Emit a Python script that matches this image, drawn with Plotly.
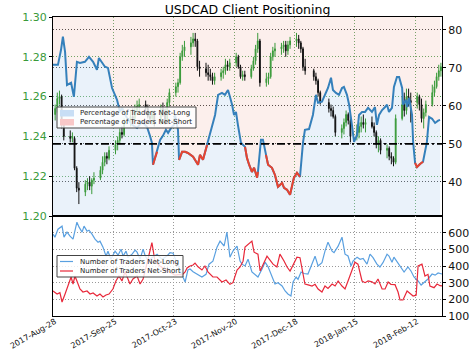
import pandas as pd
import plotly.graph_objects as go

# ---------------- data ----------------
title_text = "USDCAD Client Positioning"
base_date = pd.Timestamp("2017-08-28")
x_end = pd.Timestamp("2018-02-24 12:00")
tick_dates = pd.to_datetime(["2017-08-28", "2017-09-25", "2017-10-23", "2017-11-20",
                             "2017-12-18", "2018-01-15", "2018-02-12"])

trade_days = pd.bdate_range("2017-08-28", "2018-02-23").drop(pd.to_datetime(["2017-12-25", "2018-01-01"]))
candle_dates = trade_days + pd.Timedelta(days=1)  # bars stamped at session close

opens = [1.2510, 1.2540, 1.2590, 1.2600, 1.2460, 1.2400, 1.2390, 1.2390, 1.2240, 1.2140,
         1.2120, 1.2160, 1.2170, 1.2150, 1.2180, 1.2190, 1.2230, 1.2270, 1.2300, 1.2290,
         1.2330, 1.2360, 1.2380, 1.2420, 1.2410, 1.2470, 1.2500, 1.2490, 1.2530, 1.2550,
         1.2560, 1.2540, 1.2500, 1.2490, 1.2510, 1.2470, 1.2540, 1.2520, 1.2480, 1.2570,
         1.2620, 1.2650, 1.2670, 1.2800, 1.2830, 1.2850, 1.2870, 1.2890, 1.2880, 1.2750,
         1.2740, 1.2720, 1.2710, 1.2700, 1.2680, 1.2700, 1.2720, 1.2730, 1.2760, 1.2750,
         1.2770, 1.2800, 1.2750, 1.2700, 1.2710, 1.2700, 1.2740, 1.2780, 1.2840, 1.2880,
         1.2670, 1.2690, 1.2700, 1.2800, 1.2830, 1.2840, 1.2850, 1.2860, 1.2830, 1.2860,
         1.2880, 1.2890, 1.2870, 1.2840, 1.2750, 1.2730, 1.2700, 1.2680, 1.2620, 1.2570,
         1.2540, 1.2530, 1.2500, 1.2420, 1.2440, 1.2470, 1.2510, 1.2480, 1.2400, 1.2420,
         1.2450, 1.2470, 1.2460, 1.2470, 1.2450, 1.2420, 1.2360, 1.2380, 1.2330, 1.2340,
         1.2300, 1.2290, 1.2270, 1.2490, 1.2560, 1.2530, 1.2600, 1.2580, 1.2570, 1.2600,
         1.2560, 1.2490, 1.2520, 1.2560, 1.2620, 1.2650, 1.2700, 1.2730]
highs = [1.2560, 1.2620, 1.2630, 1.2610, 1.2480, 1.2430, 1.2420, 1.2400, 1.2250, 1.2170,
         1.2180, 1.2190, 1.2200, 1.2190, 1.2220, 1.2250, 1.2300, 1.2320, 1.2320, 1.2350,
         1.2380, 1.2400, 1.2440, 1.2450, 1.2490, 1.2530, 1.2540, 1.2560, 1.2580, 1.2590,
         1.2580, 1.2560, 1.2520, 1.2530, 1.2530, 1.2560, 1.2570, 1.2540, 1.2590, 1.2640,
         1.2670, 1.2690, 1.2820, 1.2860, 1.2880, 1.2900, 1.2920, 1.2920, 1.2890, 1.2780,
         1.2770, 1.2760, 1.2740, 1.2720, 1.2720, 1.2740, 1.2750, 1.2790, 1.2780, 1.2790,
         1.2820, 1.2810, 1.2760, 1.2730, 1.2730, 1.2760, 1.2800, 1.2860, 1.2920, 1.2890,
         1.2720, 1.2720, 1.2820, 1.2850, 1.2870, 1.2870, 1.2880, 1.2880, 1.2880, 1.2900,
         1.2920, 1.2910, 1.2880, 1.2850, 1.2790, 1.2740, 1.2720, 1.2690, 1.2630, 1.2590,
         1.2560, 1.2550, 1.2510, 1.2460, 1.2490, 1.2530, 1.2520, 1.2500, 1.2460, 1.2470,
         1.2500, 1.2510, 1.2490, 1.2500, 1.2470, 1.2430, 1.2400, 1.2390, 1.2360, 1.2350,
         1.2320, 1.2300, 1.2510, 1.2600, 1.2620, 1.2640, 1.2640, 1.2620, 1.2620, 1.2610,
         1.2590, 1.2540, 1.2580, 1.2660, 1.2680, 1.2720, 1.2760, 1.2770]
lows = [1.2480, 1.2520, 1.2560, 1.2440, 1.2380, 1.2370, 1.2370, 1.2230, 1.2120, 1.2060,
        1.2100, 1.2130, 1.2130, 1.2110, 1.2160, 1.2180, 1.2210, 1.2250, 1.2260, 1.2280,
        1.2310, 1.2330, 1.2360, 1.2390, 1.2400, 1.2450, 1.2470, 1.2480, 1.2510, 1.2520,
        1.2520, 1.2490, 1.2470, 1.2460, 1.2450, 1.2460, 1.2500, 1.2460, 1.2470, 1.2550,
        1.2600, 1.2620, 1.2660, 1.2780, 1.2800, 1.2810, 1.2850, 1.2850, 1.2730, 1.2700,
        1.2700, 1.2680, 1.2680, 1.2660, 1.2660, 1.2680, 1.2690, 1.2710, 1.2730, 1.2730,
        1.2750, 1.2740, 1.2690, 1.2680, 1.2680, 1.2690, 1.2730, 1.2760, 1.2820, 1.2650,
        1.2650, 1.2660, 1.2690, 1.2780, 1.2800, 1.2810, 1.2820, 1.2800, 1.2810, 1.2840,
        1.2850, 1.2840, 1.2820, 1.2730, 1.2710, 1.2680, 1.2660, 1.2600, 1.2560, 1.2520,
        1.2500, 1.2490, 1.2400, 1.2390, 1.2410, 1.2450, 1.2460, 1.2370, 1.2380, 1.2390,
        1.2420, 1.2440, 1.2420, 1.2440, 1.2400, 1.2340, 1.2320, 1.2310, 1.2290, 1.2280,
        1.2260, 1.2250, 1.2260, 1.2480, 1.2500, 1.2510, 1.2550, 1.2470, 1.2540, 1.2530,
        1.2470, 1.2440, 1.2500, 1.2550, 1.2600, 1.2640, 1.2680, 1.2700]
closes = [1.2540, 1.2590, 1.2600, 1.2460, 1.2400, 1.2390, 1.2400, 1.2240, 1.2140, 1.2130,
          1.2160, 1.2170, 1.2150, 1.2180, 1.2190, 1.2230, 1.2270, 1.2300, 1.2290, 1.2330,
          1.2360, 1.2380, 1.2420, 1.2410, 1.2470, 1.2500, 1.2490, 1.2530, 1.2550, 1.2560,
          1.2540, 1.2500, 1.2490, 1.2510, 1.2470, 1.2540, 1.2520, 1.2480, 1.2570, 1.2620,
          1.2650, 1.2670, 1.2800, 1.2830, 1.2850, 1.2870, 1.2890, 1.2880, 1.2750, 1.2740,
          1.2720, 1.2710, 1.2700, 1.2680, 1.2700, 1.2720, 1.2730, 1.2760, 1.2750, 1.2770,
          1.2800, 1.2750, 1.2700, 1.2710, 1.2700, 1.2740, 1.2780, 1.2840, 1.2880, 1.2670,
          1.2690, 1.2700, 1.2800, 1.2830, 1.2840, 1.2850, 1.2860, 1.2830, 1.2860, 1.2880,
          1.2890, 1.2870, 1.2840, 1.2750, 1.2730, 1.2700, 1.2680, 1.2620, 1.2570, 1.2540,
          1.2530, 1.2500, 1.2420, 1.2440, 1.2470, 1.2510, 1.2480, 1.2400, 1.2420, 1.2450,
          1.2470, 1.2460, 1.2470, 1.2450, 1.2420, 1.2360, 1.2380, 1.2330, 1.2340, 1.2300,
          1.2290, 1.2270, 1.2490, 1.2560, 1.2530, 1.2600, 1.2580, 1.2570, 1.2600, 1.2560,
          1.2490, 1.2520, 1.2560, 1.2620, 1.2650, 1.2700, 1.2730, 1.2750]

# percentage of traders net-long (days after 2017-08-28, value)
pct_days = [0, 2.3, 3.7, 4.6, 5.6, 6.5, 8.4, 9.7, 11.1, 12.5, 14.8, 16.7, 18.6, 20.4, 21.3,
            23.2, 24.1, 25.5, 27.4, 29.7, 31.1, 32.0, 32.9, 34.3, 36.7, 39.0, 41.3, 43.6,
            45.0, 45.9, 46.4, 48.3, 49.7, 51.0, 52.4, 53.4, 54.8, 56.1, 56.6, 58.0, 58.5,
            59.9, 61.3, 62.6, 65.0, 67.3, 68.2, 69.6, 71.5, 72.9, 75.2, 76.6, 78.4, 79.8,
            81.2, 82.1, 83.1, 84.0, 84.9, 85.8, 87.2, 89.1, 90.0, 91.0, 92.3, 93.3, 94.7,
            95.1, 96.5, 97.4, 98.8, 99.8, 101.6, 103.0, 104.4, 106.3, 107.2, 108.6, 110.0,
            110.9, 111.8, 113.2, 114.6, 116.0, 116.9, 118.8, 120.6, 122.0, 123.0, 124.8,
            126.2, 127.6, 129.0, 129.9, 131.3, 132.7, 134.1, 135.0, 136.4, 137.4, 138.7,
            139.7, 141.1, 142.0, 143.4, 144.8, 146.2, 148.0, 149.4, 150.3, 151.3, 152.7,
            154.1, 155.0, 155.9, 157.3, 158.2, 159.6, 160.6, 162.0, 162.4, 163.8, 164.3,
            165.2, 166.6, 167.1, 168.0, 168.9, 170.3, 171.7, 173.5, 174.5, 175.9, 177.3,
            178.7, 179.6]
pct_long = [70.8, 70.8, 74.7, 78.2, 74.2, 65.5, 66.1, 62.4, 71.6, 71.3, 71.6, 72.9, 71.6, 69.5,
            72.6, 71.0, 70.3, 70.0, 64.7, 61.6, 58.4, 59.5, 58.4, 56.8, 55.0, 54.2, 55.8, 54.5,
            52.1, 50.3, 44.5, 47.9, 51.0, 52.1, 53.7, 52.9, 54.2, 55.0, 57.6, 53.7, 45.8,
            47.9, 47.9, 47.6, 46.6, 44.5, 47.1, 45.8, 49.7, 53.2, 57.6, 62.9, 63.4, 62.9,
            64.2, 62.4, 60.3, 57.6, 58.4, 55.0, 50.3, 49.2, 46.3, 44.5, 42.6, 43.7, 41.1,
            42.6, 51.1, 51.1, 47.1, 44.5, 43.7, 41.8, 38.7, 39.7, 38.4, 37.9, 36.6, 39.2,
            41.1, 42.4, 41.3, 50.3, 53.7, 53.9, 57.6, 62.9, 60.8, 61.1, 62.9, 64.7, 67.4,
            64.2, 63.4, 62.9, 64.7, 65.0, 62.9, 60.3, 55.0, 50.5, 52.4, 57.6, 58.4, 58.4,
            59.5, 58.4, 59.7, 55.0, 57.6, 58.9, 59.7, 60.3, 58.4, 59.5, 65.0, 67.6, 67.6,
            64.7, 60.3, 61.6, 59.7, 62.1, 57.6, 50.5, 45.0, 43.9, 44.7, 45.3, 50.5, 57.1,
            56.6, 55.5, 56.1, 56.3]

# number of traders net-long
long_days = [0, 0.9, 2.3, 4.2, 5.1, 6.5, 7.9, 9.3, 11.1, 12.1, 13.5, 14.4, 15.8, 16.7, 18.1,
             19.5, 20.9, 21.8, 23.2, 24.6, 25.5, 26.9, 27.8, 28.8, 30.2, 31.6, 32.5, 33.9,
             34.8, 36.7, 38.1, 39.0, 40.4, 41.8, 42.7, 44.1, 45.9, 48.3, 50.6, 52.9, 54.3,
             55.7, 57.5, 59.4, 61.3, 62.6, 63.6, 65.0, 66.8, 69.1, 71.0, 72.4, 74.2, 76.1,
             77.5, 79.4, 80.7, 82.1, 83.5, 85.4, 86.8, 87.7, 89.1, 90.5, 92.3, 93.7, 95.1,
             97.0, 98.4, 99.8, 101.6, 103.0, 104.4, 106.3, 107.7, 109.0, 110.4, 111.4, 112.8,
             113.7, 115.1, 116.5, 118.3, 120.2, 121.6, 123.0, 124.8, 126.2, 127.6, 129.5,
             130.4, 132.3, 134.1, 135.5, 136.9, 138.3, 139.2, 141.1, 142.5, 143.9, 145.7,
             147.1, 148.5, 150.3, 151.7, 153.1, 155.0, 155.9, 157.3, 158.2, 160.1, 161.5,
             162.9, 164.7, 166.1, 167.5, 169.4, 170.8, 172.2, 174.0, 175.9, 177.3, 178.7,
             180.5]
long_counts = [591, 573, 621, 639, 573, 603, 579, 561, 663, 633, 603, 639, 609, 615, 591,
               561, 543, 549, 513, 459, 489, 441, 465, 489, 465, 501, 459, 489, 453, 471,
               495, 483, 441, 501, 465, 429, 450, 470, 440, 460, 480, 477, 420, 360, 304,
               376, 382, 366, 352, 334, 350, 411, 429, 513, 549, 520, 603, 453, 490, 519,
               430, 411, 400, 441, 364, 350, 334, 382, 423, 395, 340, 292, 300, 280, 250,
               232, 220, 304, 334, 320, 364, 355, 352, 411, 459, 400, 420, 489, 543, 489,
               480, 519, 573, 471, 460, 400, 429, 453, 440, 445, 411, 471, 450, 411, 394,
               420, 471, 460, 423, 453, 420, 394, 364, 394, 370, 334, 310, 286, 300, 322,
               352, 345, 358, 352]

# number of traders net-short
short_days = [0, 1.9, 3.2, 4.2, 5.6, 7.0, 8.4, 9.3, 10.2, 11.1, 12.5, 13.9, 15.8, 17.2, 18.6,
              20.4, 21.8, 23.2, 24.6, 26.0, 27.8, 29.2, 30.6, 32.0, 33.4, 34.8, 35.7, 37.1,
              39.0, 40.4, 41.8, 43.2, 44.5, 45.9, 47.3, 49.6, 51.9, 54.3, 56.6, 58.9, 59.9,
              61.3, 62.2, 63.6, 65.0, 65.9, 67.3, 69.1, 70.5, 71.9, 72.9, 74.2, 76.1, 78.4,
              80.3, 82.1, 83.5, 85.4, 86.8, 88.2, 89.1, 90.5, 92.3, 93.3, 95.1, 96.1, 97.4,
              99.3, 100.7, 102.1, 103.9, 105.3, 107.2, 108.6, 110.0, 111.4, 113.2, 114.6,
              116.0, 116.9, 118.8, 120.2, 121.6, 123.0, 124.8, 126.2, 127.6, 129.5, 130.9,
              132.3, 134.1, 135.5, 136.9, 138.7, 140.1, 141.5, 143.4, 144.8, 146.2, 148.0,
              149.4, 150.8, 152.7, 154.1, 155.5, 156.8, 158.7, 160.1, 161.0, 162.4, 164.3,
              165.7, 167.1, 168.5, 169.4, 171.2, 172.6, 174.0, 174.9, 176.8, 178.2, 179.6,
              181.0]
short_counts = [250, 232, 240, 184, 232, 280, 334, 292, 340, 310, 262, 244, 250, 232, 238,
                220, 232, 214, 226, 232, 262, 310, 340, 310, 364, 322, 292, 322, 340, 292,
                322, 394, 460, 540, 430, 400, 380, 360, 345, 350, 346, 364, 388, 400, 406,
                417, 395, 376, 400, 365, 352, 334, 334, 304, 316, 290, 300, 376, 394, 429,
                513, 531, 549, 483, 471, 370, 411, 459, 435, 411, 394, 471, 430, 394, 370,
                411, 453, 450, 364, 292, 285, 280, 290, 262, 244, 280, 265, 292, 280, 310,
                280, 262, 310, 370, 423, 411, 310, 300, 310, 305, 292, 322, 262, 262, 304,
                290, 288, 244, 196, 196, 250, 235, 220, 225, 400, 411, 340, 350, 280, 270,
                292, 282, 280]

neutral_level = 50
pct_ceiling = 100

# ---------------- derived ----------------
pct_dates = base_date + pd.to_timedelta(pct_days, unit="D")
long_dates = base_date + pd.to_timedelta(long_days, unit="D")
short_dates = base_date + pd.to_timedelta(short_days, unit="D")
pct_short_part = [v if v < neutral_level else None for v in pct_long]

FONT = "DejaVu Sans"
GREEN = "#3a9a3a"
BLUE_LINE = "#3580bb"
RED_LINE = "#e8432f"
CNT_BLUE = "#5aa0e0"
CNT_RED = "#e8283a"

fig = go.Figure()

# background fills (percentage axis y)
fig.add_trace(go.Scatter(x=pct_dates, y=pct_long, mode="lines", line=dict(width=0),
                         fill="tozeroy", fillcolor="rgba(190,215,240,0.32)",
                         hoverinfo="skip", showlegend=False, xaxis="x", yaxis="y"))
fig.add_trace(go.Scatter(x=pct_dates, y=[pct_ceiling] * len(pct_dates), mode="lines",
                         line=dict(width=0), fill="tonexty",
                         fillcolor="rgba(240,180,170,0.22)",
                         hoverinfo="skip", showlegend=False, xaxis="x", yaxis="y"))

# candles (price axis y2)
fig.add_trace(go.Candlestick(x=candle_dates, open=opens, high=highs, low=lows, close=closes,
                             increasing=dict(line=dict(color=GREEN, width=1), fillcolor=GREEN),
                             decreasing=dict(line=dict(color="#111111", width=1), fillcolor="#111111"),
                             whiskerwidth=0, showlegend=False, hoverinfo="skip",
                             xaxis="x", yaxis="y2"))

# percentage line (axis y3, above candles)
fig.add_trace(go.Scatter(x=pct_dates, y=pct_long, mode="lines",
                         line=dict(color=BLUE_LINE, width=2), showlegend=False,
                         xaxis="x", yaxis="y3"))
fig.add_trace(go.Scatter(x=pct_dates, y=pct_short_part, mode="lines",
                         line=dict(color=RED_LINE, width=2), connectgaps=False,
                         showlegend=False, xaxis="x", yaxis="y3"))

# counts (bottom panel)
fig.add_trace(go.Scatter(x=long_dates, y=long_counts, mode="lines",
                         line=dict(color=CNT_BLUE, width=1.2), showlegend=False,
                         xaxis="x2", yaxis="y4"))
fig.add_trace(go.Scatter(x=short_dates, y=short_counts, mode="lines",
                         line=dict(color=CNT_RED, width=1.2), showlegend=False,
                         xaxis="x2", yaxis="y4"))

# ---------------- layout ----------------
L, R, T, B = 53, 442, 17, 316
W, H = 474, 354
split = (B - 216) / (B - T)


def px(x):
    return (x - L) / (R - L)


def py(y):
    return (B - y) / (B - T)


shapes = [
    dict(type="line", xref="x domain", x0=0, x1=1, yref="y", y0=neutral_level, y1=neutral_level,
         line=dict(color="black", width=1.6, dash="8px,3px,2px,3px"), layer="above"),
]
annotations = []

# top legend
shapes.append(dict(type="rect", xref="paper", yref="paper", x0=px(57), x1=px(196),
                   y0=py(128), y1=py(107), fillcolor="rgba(255,255,255,0.82)",
                   line=dict(color="#444444", width=1), layer="above"))
shapes.append(dict(type="rect", xref="paper", yref="paper", x0=px(60), x1=px(74),
                   y0=py(116.5), y1=py(110), fillcolor="#c8def5", line=dict(width=0), layer="above"))
shapes.append(dict(type="rect", xref="paper", yref="paper", x0=px(60), x1=px(74),
                   y0=py(125.5), y1=py(119), fillcolor="#f8c8c8", line=dict(width=0), layer="above"))
annotations.append(dict(text="Percentage of Traders Net-Long", xref="paper", yref="paper",
                        x=px(78), y=py(113.3), xanchor="left", yanchor="middle", showarrow=False,
                        font=dict(family=FONT, size=7, color="#222222")))
annotations.append(dict(text="Percentage of Traders Net-Short", xref="paper", yref="paper",
                        x=px(78), y=py(122.3), xanchor="left", yanchor="middle", showarrow=False,
                        font=dict(family=FONT, size=7, color="#222222")))

# bottom legend
shapes.append(dict(type="rect", xref="paper", yref="paper", x0=px(57), x1=px(183),
                   y0=py(277), y1=py(255.5), fillcolor="rgba(255,255,255,0.82)",
                   line=dict(color="#444444", width=1), layer="above"))
shapes.append(dict(type="line", xref="paper", yref="paper", x0=px(60), x1=px(73),
                   y0=py(261.5), y1=py(261.5), line=dict(color=CNT_BLUE, width=1.2), layer="above"))
shapes.append(dict(type="line", xref="paper", yref="paper", x0=px(60), x1=px(73),
                   y0=py(271), y1=py(271), line=dict(color=CNT_RED, width=1.2), layer="above"))
annotations.append(dict(text="Number of Traders Net-Long", xref="paper", yref="paper",
                        x=px(78), y=py(261.5), xanchor="left", yanchor="middle", showarrow=False,
                        font=dict(family=FONT, size=7, color="#222222")))
annotations.append(dict(text="Number of Traders Net-Short", xref="paper", yref="paper",
                        x=px(78), y=py(271), xanchor="left", yanchor="middle", showarrow=False,
                        font=dict(family=FONT, size=7, color="#222222")))

price_ticks = [1.20, 1.22, 1.24, 1.26, 1.28, 1.30]
pct_ticks = [40, 50, 60, 70, 80]
count_ticks = [100, 200, 300, 400, 500, 600]

fig.update_layout(
    width=W, height=H,
    margin=dict(l=L, r=W - R, t=T, b=H - B, pad=0),
    paper_bgcolor="white", plot_bgcolor="white",
    font=dict(family=FONT, color="black"),
    showlegend=False,
    boxgap=0.45,
    title=dict(text=title_text, x=0.5, xref="paper", xanchor="center",
               y=1 - 9.5 / H, yref="container", yanchor="middle",
               font=dict(family=FONT, size=12.5, color="black")),
    xaxis=dict(domain=[0, 1], anchor="y", type="date", range=[base_date, x_end],
               tickvals=tick_dates, showticklabels=False, ticks="",
               showgrid=True, gridcolor="rgba(60,140,60,0.85)", griddash="1px,2px", gridwidth=1,
               showline=True, linecolor="black", linewidth=1, mirror=True,
               rangeslider=dict(visible=False), automargin=False, zeroline=False),
    yaxis=dict(domain=[split, 1], anchor="x", side="right", range=[31, 83.4],
               tickvals=pct_ticks, ticks="outside", ticklen=3, tickcolor="black",
               tickfont=dict(family=FONT, size=11, color="#111111"),
               showgrid=True, gridcolor="#333333", griddash="1px,2px", gridwidth=1,
               showline=True, linecolor="black", linewidth=1, mirror=True,
               zeroline=False, automargin=False),
    yaxis2=dict(overlaying="y", anchor="x", side="left", range=[1.20, 1.30],
                tickvals=price_ticks, tickformat=".2f", ticks="outside", ticklen=3,
                tickcolor="black", tickfont=dict(family=FONT, size=11, color=GREEN),
                showgrid=True, gridcolor="rgba(60,150,60,0.9)", griddash="1px,2px", gridwidth=1,
                zeroline=False, automargin=False),
    yaxis3=dict(overlaying="y", anchor="x", range=[31, 83.4], visible=False),
    xaxis2=dict(domain=[0, 1], anchor="y4", type="date", matches="x", range=[base_date, x_end],
                tickvals=tick_dates, tickformat="%Y-%b-%d", tickangle=-30,
                ticks="", ticklabelstandoff=-3, ticklabelshift=2,
                tickfont=dict(family=FONT, size=8, color="#111111"),
                showgrid=True, gridcolor="#999999", griddash="1px,2px", gridwidth=1,
                showline=True, linecolor="black", linewidth=1, mirror=True,
                zeroline=False, automargin=False),
    yaxis4=dict(domain=[0, split], anchor="x2", side="right", range=[100, 700],
                tickvals=count_ticks, ticks="outside", ticklen=3, tickcolor="black",
                tickfont=dict(family=FONT, size=11, color="#111111"),
                showgrid=True, gridcolor="#999999", griddash="1px,2px", gridwidth=1,
                showline=True, linecolor="black", linewidth=1, mirror=True,
                zeroline=False, automargin=False),
    shapes=shapes,
    annotations=annotations,
)

fig.write_html("out.html")
